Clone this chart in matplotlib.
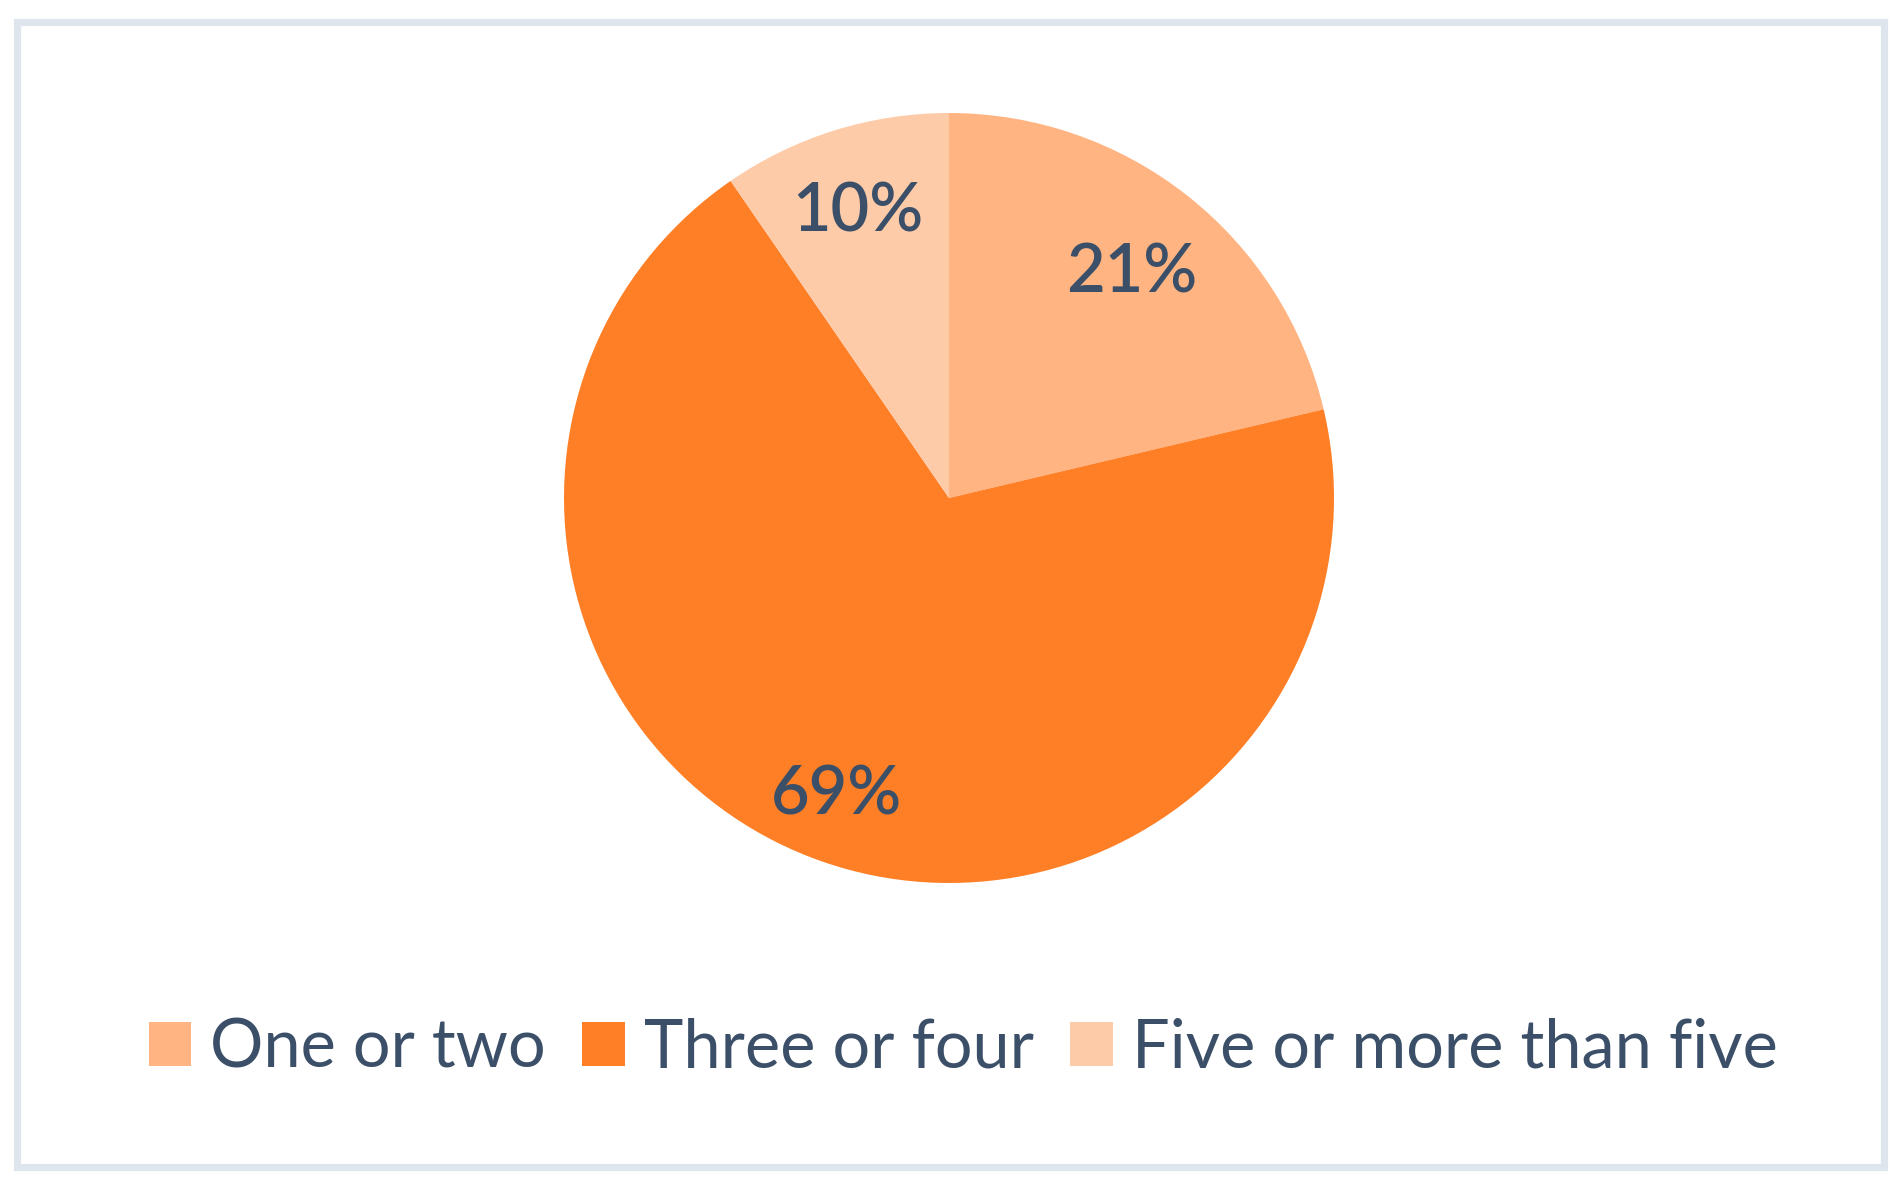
import numpy as np
import matplotlib.pyplot as plt
from matplotlib.patches import Rectangle, Patch

categories = ['One or two', 'Three or four', 'Five or more than five']
shares = [21.3, 69.1, 9.6]
pct_labels = ['21%', '69%', '10%']
colors = ['#FFB482', '#FF7F27', '#FECBA9']

text_color = '#3B5068'
W, H = 1901, 1185

fig = plt.figure(figsize=(W / 100, H / 100), dpi=100)
fig.patch.set_facecolor('white')

# outer frame
fig.patches.append(Rectangle((16.5 / W, 1 - 1166.5 / H), (1883.5 - 16.5) / W, (1166.5 - 21.5) / H,
                             transform=fig.transFigure, fill=False,
                             edgecolor='#DEE5EC', linewidth=5.2))

# pie, centre (949, 498) px, radius 385 px
cx, cy, r = 949, 498, 385
ax = fig.add_axes([(cx - r) / W, 1 - (cy + r) / H, 2 * r / W, 2 * r / H])
wedges, _ = ax.pie(shares, colors=colors, startangle=90, counterclock=False,
                   wedgeprops=dict(linewidth=0))
ax.set_xlim(-1, 1)
ax.set_ylim(-1, 1)
ax.axis('off')

# label distance from centre, per slice (fraction of radius)
label_dist = [0.765, 0.81, 0.795]
for w, lab, d in zip(wedges, pct_labels, label_dist):
    ang = np.deg2rad((w.theta1 + w.theta2) / 2)
    ax.text(d * np.cos(ang), d * np.sin(ang) - 0.018, lab, ha='center', va='center',
            fontsize=48, color=text_color, family='Lato', weight='semibold')

handles = [Patch(facecolor=c, edgecolor='none') for c in colors]
fig.legend(handles, categories, loc='center', bbox_to_anchor=(963 / W, 1 - 1048 / H),
           ncol=3, frameon=False, handlelength=0.64, handleheight=0.64,
           handletextpad=0.28, columnspacing=0.55,
           prop=dict(family='Lato', size=48, weight='normal'),
           labelcolor=text_color)

fig.savefig('out.png', dpi=100, facecolor='white')
